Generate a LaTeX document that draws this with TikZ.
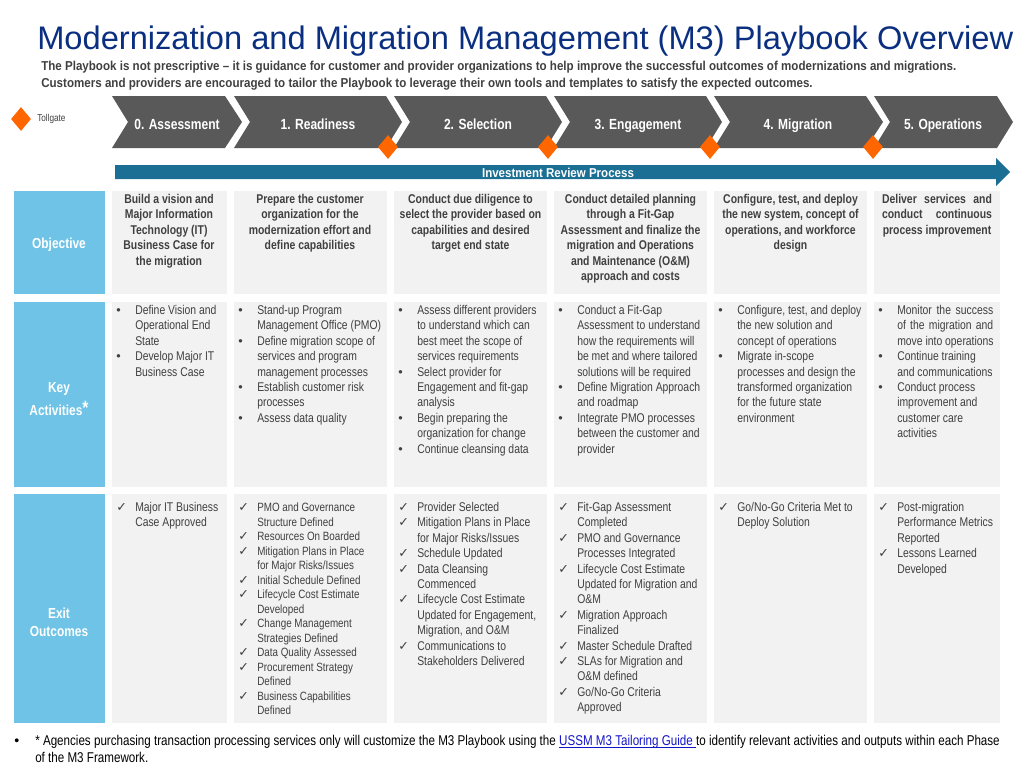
\documentclass[tikz,border=0pt]{standalone}
\usepackage{fontspec}
\setmainfont[FakeStretch=0.82]{Liberation Sans}
\newfontfamily\titlefont{Liberation Sans}
\newfontfamily\introfont[FakeStretch=0.896]{Liberation Sans}
\newfontfamily\checkfont{DejaVu Sans}
\usepackage{tikz}
\usetikzlibrary{positioning,shapes.geometric}
\definecolor{chevgrey}{HTML}{595959}
\definecolor{cellgrey}{HTML}{F2F2F2}
\definecolor{labelblue}{HTML}{6EC3E6}
\definecolor{barblue}{HTML}{1B6F94}
\definecolor{gateorange}{HTML}{FF6600}
\definecolor{titleblue}{HTML}{0B2F80}
\definecolor{bodygrey}{HTML}{404040}
\definecolor{linkblue}{HTML}{1414C8}
\newdimen\px
\px=0.75pt
\newcommand{\bu}{\makebox[19\px][l]{\titlefont •}}
\newcommand{\ck}{\makebox[19\px][l]{{\checkfont\fontsize{9.5pt}{9.5pt}\selectfont ✓}}}
\newcommand{\ii}{\hspace*{19\px}}
\newcommand{\jl}[1]{\makebox[96\px][s]{#1}}
\tikzset{
  cell/.style={anchor=north west, fill=cellgrey, inner sep=0pt},
  sidebox/.style={anchor=north west, fill=labelblue, minimum width=91\px, inner sep=0pt},
  sidetext/.style={text=white, align=center, font=\fontsize{10.9pt}{13.5pt}\selectfont\bfseries},
  objrow/.style={minimum height=103\px},
  keyrow/.style={minimum height=185\px},
  exitrow/.style={minimum height=229\px},
  colA/.style={minimum width=115\px},
  colB/.style={minimum width=153\px},
  colC/.style={minimum width=126\px},
  objtext/.style={anchor=north, align=center, inner sep=0pt, text=bodygrey,
                  font=\fontsize{9.55pt}{11.55pt}\selectfont\bfseries},
  keytext/.style={anchor=north west, align=left, inner sep=0pt, text=bodygrey,
                  font=\fontsize{9.5pt}{11.55pt}\selectfont},
  tighttext/.style={keytext, font=\fontsize{9pt}{10.87pt}\selectfont},
  tollgate/.style={diamond, fill=gateorange, minimum width=20\px, minimum height=24\px, inner sep=0pt},
  chevtext/.style={anchor=base, inner sep=0pt, text=white, font=\fontsize{11pt}{12pt}\selectfont\bfseries},
}
\newcommand{\chevron}[6]{%
  \fill[chevgrey] (#2,96) -- (#3,96) -- (#4,122) -- (#3,148) -- (#2,148) -- ({#2+16},122) -- cycle;
  \node[chevtext] (#1) at (#5,129) {#6};
}
\begin{document}
\begin{tikzpicture}[x=0.75pt,y=-0.75pt]
  \useasboundingbox (0,0) rectangle (1024,768);

  % title and intro
  \node[anchor=west, inner sep=0pt, text=titleblue, font=\titlefont\fontsize{24.48pt}{30pt}\selectfont] (title) at (37,41)
    {Modernization and Migration Management (M3) Playbook Overview};
  \node[anchor=north west, align=left, inner sep=0pt, text=bodygrey, font=\introfont\fontsize{9.7pt}{12.75pt}\selectfont\bfseries] (intro) at (41,61)
    {The Playbook is not prescriptive – it is guidance for customer and provider organizations to help improve the successful outcomes of modernizations and migrations.\\
     Customers and providers are encouraged to tailor the Playbook to leverage their own tools and templates to satisfy the expected outcomes.};

  % legend
  \node[tollgate] (legend) at (21,119) {};
  \node[anchor=west, inner sep=0pt, text=bodygrey, font=\fontsize{7.5pt}{8pt}\selectfont] (legendtext) at (37,119) {Tollgate};

  % phases
  \chevron{phaseA}{112}{225}{242}{177}{0. Assessment}
  \chevron{phaseB}{234}{386}{402}{318}{1. Readiness}
  \chevron{phaseC}{394}{546}{562}{478}{2. Selection}
  \chevron{phaseD}{554}{706}{722}{638}{3. Engagement}
  \chevron{phaseE}{714}{866}{883}{798}{4. Migration}
  \chevron{phaseF}{874}{997}{1013}{943}{5. Operations}

  \node[tollgate] (gateA) at (388,147) {};
  \node[tollgate] (gateB) at (548,147) {};
  \node[tollgate] (gateC) at (710,147) {};
  \node[tollgate] (gateD) at (873,147) {};

  % review bar
  \fill[barblue] (115,165) -- (996,165) -- (996,158) -- (1010,172) -- (996,186) -- (996,179) -- (115,179) -- cycle;
  \node[text=white, font=\introfont\fontsize{9.65pt}{11pt}\selectfont\bfseries] (review) at (558,173) {Investment Review Process};

  % objective row
  \node[sidebox, objrow] (objS) at (14,191) {};
  \node[cell, objrow, colA] (objA) at (112,191) {};
  \node[cell, objrow, colB] (objB) at (234,191) {};
  \node[cell, objrow, colB] (objC) at (394,191) {};
  \node[cell, objrow, colB] (objD) at (554,191) {};
  \node[cell, objrow, colB] (objE) at (714,191) {};
  \node[cell, objrow, colC] (objF) at (874,191) {};
  \node[sidetext] (objL) at (59,245) {Objective};
  \node[objtext] (objtA) at (169,194) {Build a vision and\\Major Information\\Technology (IT)\\Business Case for\\the migration};
  \node[objtext] (objtB) at (310,194) {Prepare the customer\\organization for the\\modernization effort and\\define capabilities};
  \node[objtext] (objtC) at (470.5,194) {Conduct due diligence to\\select the provider based on\\capabilities and desired\\target end state};
  \node[objtext] (objtD) at (630.5,194) {Conduct detailed planning\\through a Fit-Gap\\Assessment and finalize the\\migration and Operations\\and Maintenance (O\&M)\\approach and costs};
  \node[objtext] (objtE) at (790.5,194) {Configure, test, and deploy\\the new system, concept of\\operations, and workforce\\design};
  \node[objtext] (objtF) at (937,194) {\makebox[110\px][s]{Deliver services and}\\\makebox[110\px][s]{conduct continuous}\\process improvement};

  % key activities row
  \node[sidebox, keyrow] (keyS) at (14,302) {};
  \node[cell, keyrow, colA] (keyA) at (112,302) {};
  \node[cell, keyrow, colB] (keyB) at (234,302) {};
  \node[cell, keyrow, colB] (keyC) at (394,302) {};
  \node[cell, keyrow, colB] (keyD) at (554,302) {};
  \node[cell, keyrow, colB] (keyE) at (714,302) {};
  \node[cell, keyrow, colC] (keyF) at (874,302) {};
  \node[sidetext] (keyL) at (59,399.5) {Key\\[5\px]Activities\raisebox{1pt}{\Large *}};
  \node[keytext] (keytA) at (116,305) {\bu Define Vision and\\\ii Operational End\\\ii State\\\bu Develop Major IT\\\ii Business Case};
  \node[keytext] (keytB) at (238,305) {\bu Stand-up Program\\\ii Management Office (PMO)\\\bu Define migration scope of\\\ii services and program\\\ii management processes\\\bu Establish customer risk\\\ii processes\\\bu Assess data quality};
  \node[keytext] (keytC) at (398,305) {\bu Assess different providers\\\ii to understand which can\\\ii best meet the scope of\\\ii services requirements\\\bu Select provider for\\\ii Engagement and fit-gap\\\ii analysis\\\bu Begin preparing the\\\ii organization for change\\\bu Continue cleansing data};
  \node[keytext] (keytD) at (558,305) {\bu Conduct a Fit-Gap\\\ii Assessment to understand\\\ii how the requirements will\\\ii be met and where tailored\\\ii solutions will be required\\\bu Define Migration Approach\\\ii and roadmap\\\bu Integrate PMO processes\\\ii between the customer and\\\ii provider};
  \node[keytext] (keytE) at (718,305) {\bu Configure, test, and deploy\\\ii the new solution and\\\ii concept of operations\\\bu Migrate in-scope\\\ii processes and design the\\\ii transformed organization\\\ii for the future state\\\ii environment};
  \node[keytext] (keytF) at (878,305) {\bu \jl{Monitor the success}\\\ii \jl{of the migration and}\\\ii move into operations\\\bu Continue training\\\ii and communications\\\bu Conduct process\\\ii improvement and\\\ii customer care\\\ii activities};

  % exit outcomes row
  \node[sidebox, exitrow] (exitS) at (14,494) {};
  \node[cell, exitrow, colA] (exitA) at (112,494) {};
  \node[cell, exitrow, colB] (exitB) at (234,494) {};
  \node[cell, exitrow, colB] (exitC) at (394,494) {};
  \node[cell, exitrow, colB] (exitD) at (554,494) {};
  \node[cell, exitrow, colB] (exitE) at (714,494) {};
  \node[cell, exitrow, colC] (exitF) at (874,494) {};
  \node[sidetext] (exitL) at (59,622) {Exit\\Outcomes};
  \node[keytext] (exittA) at (116,502) {\ck Major IT Business\\\ii Case Approved};
  \node[tighttext] (exittB) at (238,503) {\ck PMO and Governance\\\ii Structure Defined\\\ck Resources On Boarded\\\ck Mitigation Plans in Place\\\ii for Major Risks/Issues\\\ck Initial Schedule Defined\\\ck Lifecycle Cost Estimate\\\ii Developed\\\ck Change Management\\\ii Strategies Defined\\\ck Data Quality Assessed\\\ck Procurement Strategy\\\ii Defined\\\ck Business Capabilities\\\ii Defined};
  \node[keytext] (exittC) at (398,502) {\ck Provider Selected\\\ck Mitigation Plans in Place\\\ii for Major Risks/Issues\\\ck Schedule Updated\\\ck Data Cleansing\\\ii Commenced\\\ck Lifecycle Cost Estimate\\\ii Updated for Engagement,\\\ii Migration, and O\&M\\\ck Communications to\\\ii Stakeholders Delivered};
  \node[keytext] (exittD) at (558,502) {\ck Fit-Gap Assessment\\\ii Completed\\\ck PMO and Governance\\\ii Processes Integrated\\\ck Lifecycle Cost Estimate\\\ii Updated for Migration and\\\ii O\&M\\\ck Migration Approach\\\ii Finalized\\\ck Master Schedule Drafted\\\ck SLAs for Migration and\\\ii O\&M defined\\\ck Go/No-Go Criteria\\\ii Approved};
  \node[keytext] (exittE) at (718,502) {\ck Go/No-Go Criteria Met to\\\ii Deploy Solution};
  \node[keytext] (exittF) at (878,502) {\ck Post-migration\\\ii Performance Metrics\\\ii Reported\\\ck Lessons Learned\\\ii Developed};

  % footnote
  \node[anchor=north west, align=left, inner sep=0pt, text=black, font=\fontsize{10.63pt}{12.75pt}\selectfont] (note) at (14,735)
    {\makebox[21\px][l]{\titlefont •}* Agencies purchasing transaction processing services only will customize the M3 Playbook using the \textcolor{linkblue}{\underline{\smash{USSM M3 Tailoring Guide\ }}}to identify relevant activities and outputs within each Phase\\
     \hspace*{21\px}of the M3 Framework.};
\end{tikzpicture}
\end{document}
